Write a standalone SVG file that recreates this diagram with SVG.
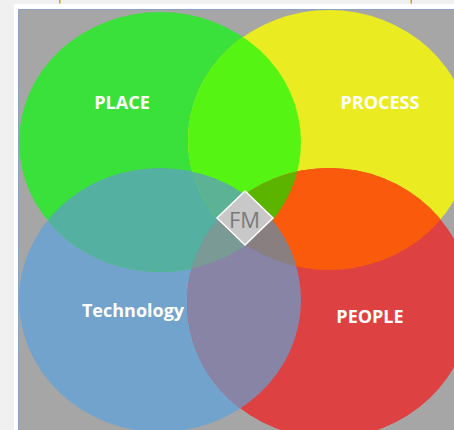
<svg xmlns="http://www.w3.org/2000/svg" width="454" height="430" viewBox="0 0 454 430">
<style>
.lbl{font-family:"Open Sans","Liberation Sans",sans-serif;font-weight:bold;fill:#ffffff;text-anchor:middle}
.fm{font-family:"Open Sans","Liberation Sans",sans-serif;fill:#7a7a7a;text-anchor:middle}
</style>
<defs>
<ellipse id="eG" cx="160" cy="142" rx="141" ry="130"/>
<ellipse id="eY" cx="329" cy="140" rx="141" ry="130"/>
<ellipse id="eB" cx="160" cy="300" rx="141" ry="132"/>
<ellipse id="eR" cx="329" cy="303" rx="142" ry="135"/>
<clipPath id="cG"><use href="#eG"/></clipPath>
<clipPath id="cY"><use href="#eY"/></clipPath>
<clipPath id="cB"><use href="#eB"/></clipPath>
<clipPath id="cR"><use href="#eR"/></clipPath>
<clipPath id="cFrame"><rect x="19" y="10" width="435" height="420"/></clipPath>
</defs>
<rect x="0" y="0" width="454" height="430" fill="#f0f0f0"/>
<rect x="14" y="4" width="440" height="426" fill="#ffffff"/>
<rect x="59" y="0" width="1.5" height="3.5" fill="#d4a017"/>
<rect x="410.5" y="0" width="1.5" height="3.5" fill="#d4a017"/>
<rect x="18.5" y="9.5" width="440" height="425" fill="#a6a6a6" stroke="#8aa3c2" stroke-width="1"/>
<g clip-path="url(#cFrame)">
<g id="technology">
<use href="#eB" fill="#72a3cc"/>
</g>
<g id="place">
<use href="#eG" fill="#3be13b"/>
</g>
<g id="process">
<use href="#eY" fill="#ebeb22"/>
</g>
<g id="people">
<use href="#eR" fill="#de4141"/>
</g>
<g id="overlaps">
<use href="#eB" fill="#54b0a0" clip-path="url(#cG)"/>
<use href="#eY" fill="#56f412" clip-path="url(#cG)"/>
<use href="#eR" fill="#fa5a0c" clip-path="url(#cY)"/>
<use href="#eR" fill="#8884a6" clip-path="url(#cB)"/>
<g clip-path="url(#cG)"><use href="#eR" fill="#5ab400" clip-path="url(#cY)"/></g>
<g clip-path="url(#cG)"><use href="#eB" fill="#5cb294" clip-path="url(#cY)"/></g>
<g clip-path="url(#cG)"><use href="#eR" fill="#7a9a96" clip-path="url(#cB)"/></g>
<g clip-path="url(#cY)"><use href="#eR" fill="#8a7f80" clip-path="url(#cB)"/></g>
</g>
</g>
<text class="lbl" x="122" y="109" font-size="18">PLACE</text>
<text class="lbl" x="380" y="109" font-size="18">PROCESS</text>
<text class="lbl" x="133" y="317" font-size="18">Technology</text>
<text class="lbl" x="370" y="323" font-size="18">PEOPLE</text>
<g id="fm">
<polygon points="245,191 273,218 245,245 217,218" fill="#c8c8c8" stroke="#ffffff" stroke-width="1.5"/>
<text class="fm" x="244.5" y="227.5" font-size="22">FM</text>
</g>
<g id="connectors"/>
</svg>
